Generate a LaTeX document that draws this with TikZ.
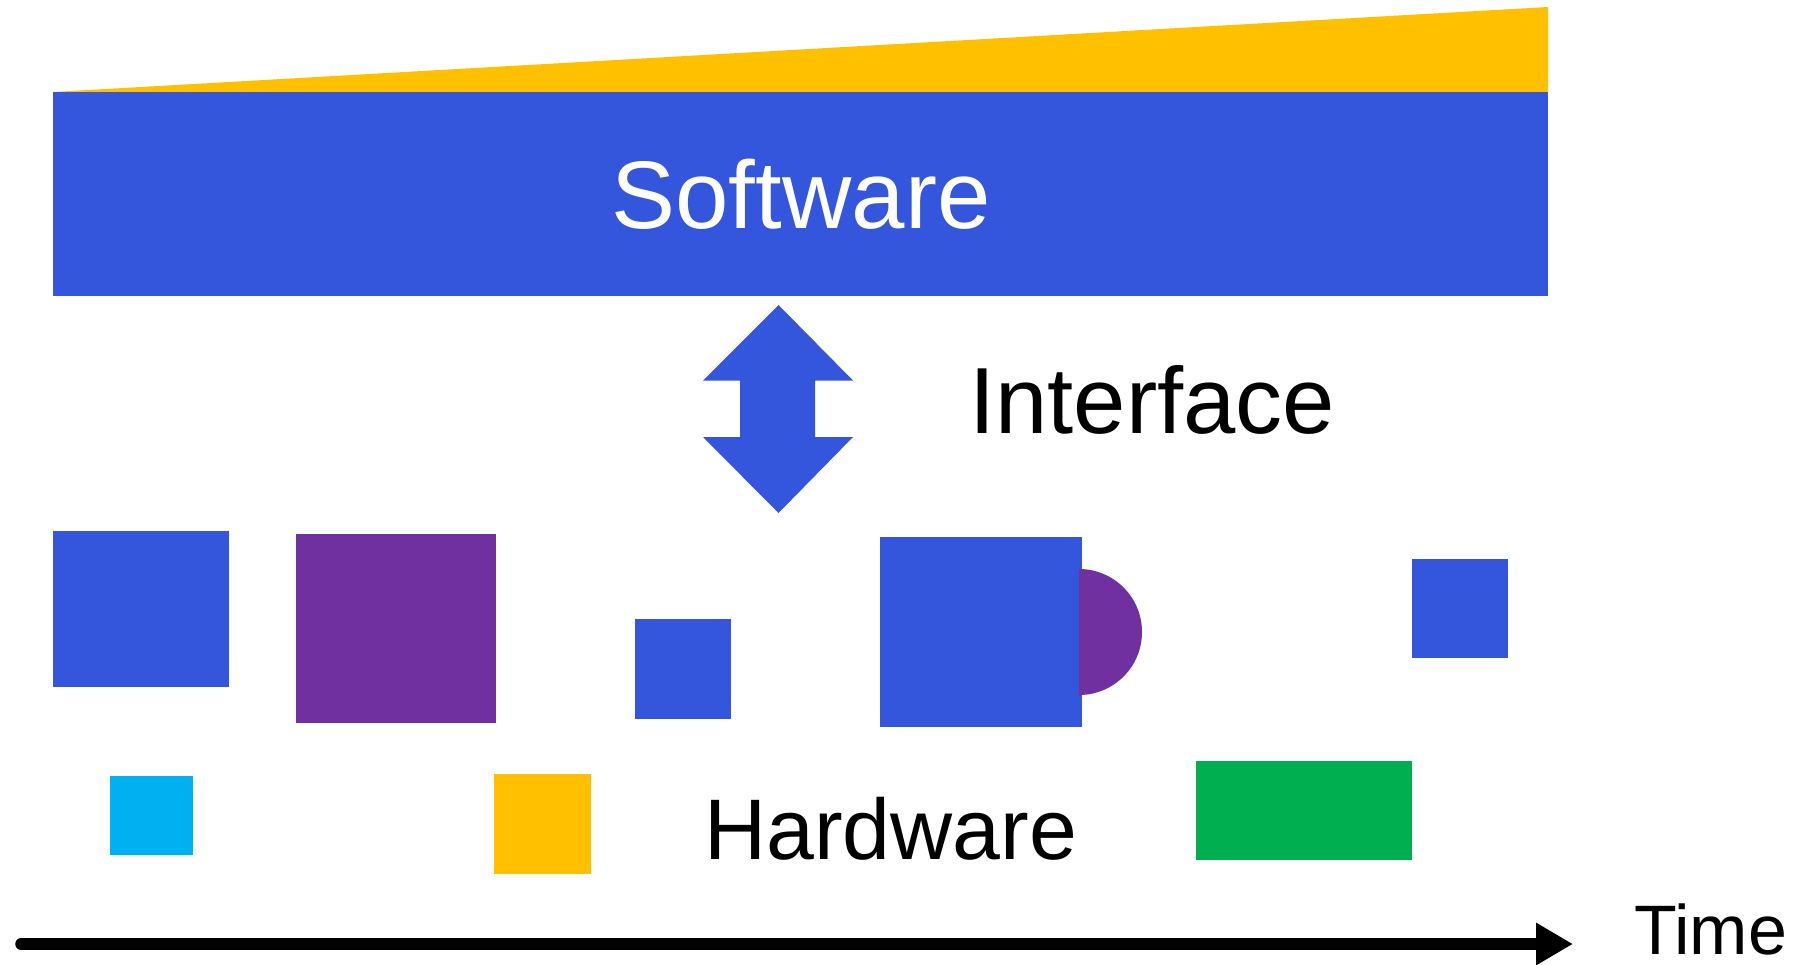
\documentclass[tikz,border=0pt]{standalone}
\usepackage{fontspec}
\setmainfont{Liberation Sans}
\usetikzlibrary{arrows.meta}
\definecolor{hwblue}{RGB}{51,86,220}
\definecolor{hwpurple}{RGB}{112,48,160}
\definecolor{hwyellow}{RGB}{255,192,0}
\definecolor{hwcyan}{RGB}{0,176,240}
\definecolor{hwgreen}{RGB}{0,176,80}
\tikzset{
  hwbox/.style={rectangle, draw=none, inner sep=0pt, outer sep=0pt},
  bigtext/.style={inner sep=0pt, anchor=base west, font=\fontsize{94}{100}\selectfont},
}
\begin{document}
\begin{tikzpicture}[x=1pt, y=-1pt]
\useasboundingbox (0,0) rectangle (1803,965);

% software layer and its growing share
\node[hwbox, fill=hwblue, minimum width=1495pt, minimum height=204pt] (sw) at (800.5,194) {};
\fill[hwyellow] (sw.north west) -- (1548,7) -- (sw.north east) -- cycle;
\node[inner sep=0pt, anchor=base, text=white, font=\fontsize{96}{100}\selectfont] (swlabel) at (801,229) {Software};

% interface double arrow
\fill[hwblue] (778.5,305) -- (853,380.5) -- (815,380.5) -- (815,437) -- (853,437)
  -- (778.5,513) -- (703,437) -- (740,437) -- (740,380.5) -- (703,380.5) -- cycle;
\node[bigtext] (iflabel) at (969,433.5) {Interface};

% hardware components
\node[hwbox, fill=hwblue,   minimum width=176pt, minimum height=156pt] (h1) at (141,609) {};
\node[hwbox, fill=hwpurple, minimum width=200pt, minimum height=189pt] (h2) at (396,628.5) {};
\node[hwbox, fill=hwblue,   minimum width=96pt,  minimum height=100pt] (h3) at (683,669) {};
\node[hwbox, fill=hwblue,   minimum width=202pt, minimum height=190pt] (h4) at (981,632) {};
\fill[hwpurple] (1079,569) arc[start angle=-90, end angle=90, radius=63] -- cycle;
\node[hwbox, fill=hwblue,   minimum width=96pt,  minimum height=99pt]  (h5) at (1460,608.5) {};
\node[hwbox, fill=hwcyan,   minimum width=83pt,  minimum height=79pt]  (h6) at (151.5,815.5) {};
\node[hwbox, fill=hwyellow, minimum width=97pt,  minimum height=100pt] (h7) at (542.5,824) {};
\node[hwbox, fill=hwgreen,  minimum width=216pt, minimum height=99pt]  (h8) at (1304,810.5) {};
\node[bigtext, font=\fontsize{86}{90}\selectfont] (hwlabel) at (704,859) {Hardware};

% time axis
\coordinate (t0) at (21,944);
\coordinate (t1) at (1573,944);
\draw[line width=11.5pt, line cap=round, -{Triangle[length=37pt, width=40pt]}] (t0) -- (t1);
\node[bigtext, text depth=0pt, font=\fontsize{70}{76}\selectfont] (timelabel) at (1634,954) {Time};
\end{tikzpicture}
\end{document}
